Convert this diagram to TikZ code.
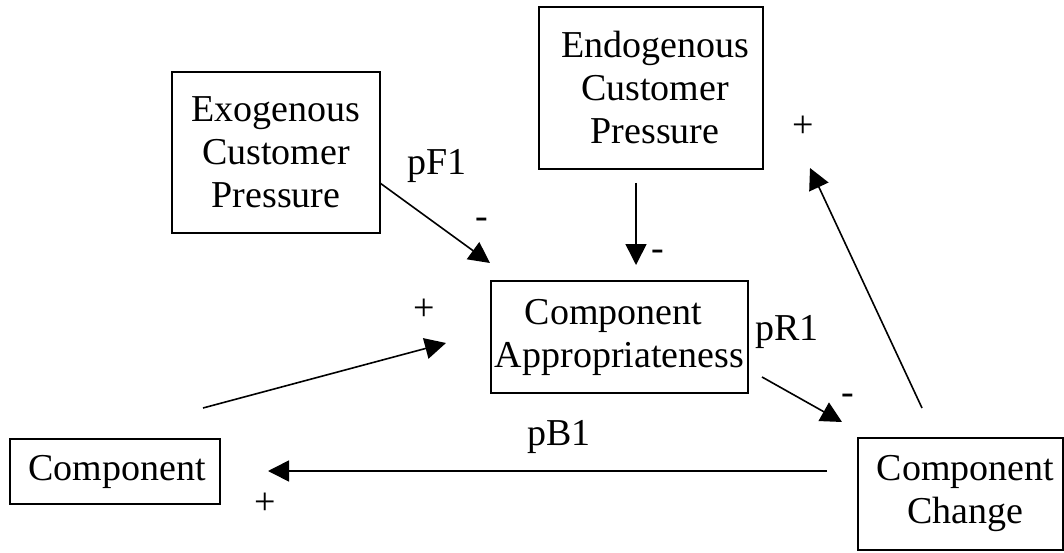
\documentclass[tikz,border=0pt]{standalone}
\usepackage{fontspec}
\setmainfont{Liberation Serif}
\usetikzlibrary{arrows.meta}
\tikzset{
  box/.style={draw, line width=1.5pt, align=center, inner sep=0pt,
    font=\fontsize{38}{43}\selectfont},
  lbl/.style={inner sep=0pt, font=\fontsize{38}{43}\selectfont},
  link/.style={line width=1.6pt, -{Triangle[length=21pt,width=21pt]}}
}
\begin{document}
\begin{tikzpicture}[x=1pt,y=-1pt]
\useasboundingbox (0,0) rectangle (1064,553);

% variables
\node[box, minimum width=208pt, minimum height=161pt] (exo) at (276,152.5)
  {Exogenous\\Customer\\Pressure};
\node[box, minimum width=224pt, minimum height=162pt] (endo) at (651,88)
  {\hspace*{8pt}Endogenous\\\hspace*{8pt}Customer\\\hspace*{8pt}Pressure};
\node[box, minimum width=257pt, minimum height=112pt] (ca) at (619.5,337)
  {Component\hspace*{12pt}\\Appropriateness};
\node[box, minimum width=210pt, minimum height=65pt] (comp) at (115,471.5)
  {\hspace*{4pt}Component};
\node[box, minimum width=205pt, minimum height=112pt] (cc) at (960.5,494)
  {\hspace*{10pt}Component\\\hspace*{10pt}Change};

% connector end points
\coordinate (exoOut) at (380,183);
\coordinate (caInA) at (490,263);
\coordinate (endoOut) at (636,183);
\coordinate (caInB) at (636,265);
\coordinate (compOut) at (203,408);
\coordinate (caInC) at (446,343);
\coordinate (caOut) at (762,377);
\coordinate (ccIn) at (842,422);
\coordinate (ccOutA) at (827,471);
\coordinate (compIn) at (268,471);
\coordinate (ccOutB) at (922,408);
\coordinate (endoIn) at (810,168);

% causal links
\draw[link] (exoOut) -- (caInA);
\draw[link] (endoOut) -- (caInB);
\draw[link] (compOut) -- (caInC);
\draw[link] (caOut) -- (ccIn);
\draw[link] (ccOutA) -- (compIn);
\draw[link] (ccOutB) -- (endoIn);

% polarities and loop names
\node[lbl] (pf) at (437,166) {pF1};
\node[lbl] (m1) at (482,223) {-};
\node[lbl] (m2) at (658,255) {-};
\node[lbl] (p1) at (803,127) {+};
\node[lbl] (pr) at (787,332) {pR1};
\node[lbl] (p2) at (424,310) {+};
\node[lbl] (m3) at (848,399) {-};
\node[lbl] (pb) at (559,437) {pB1};
\node[lbl] (p3) at (265,504) {+};
\end{tikzpicture}
\end{document}
